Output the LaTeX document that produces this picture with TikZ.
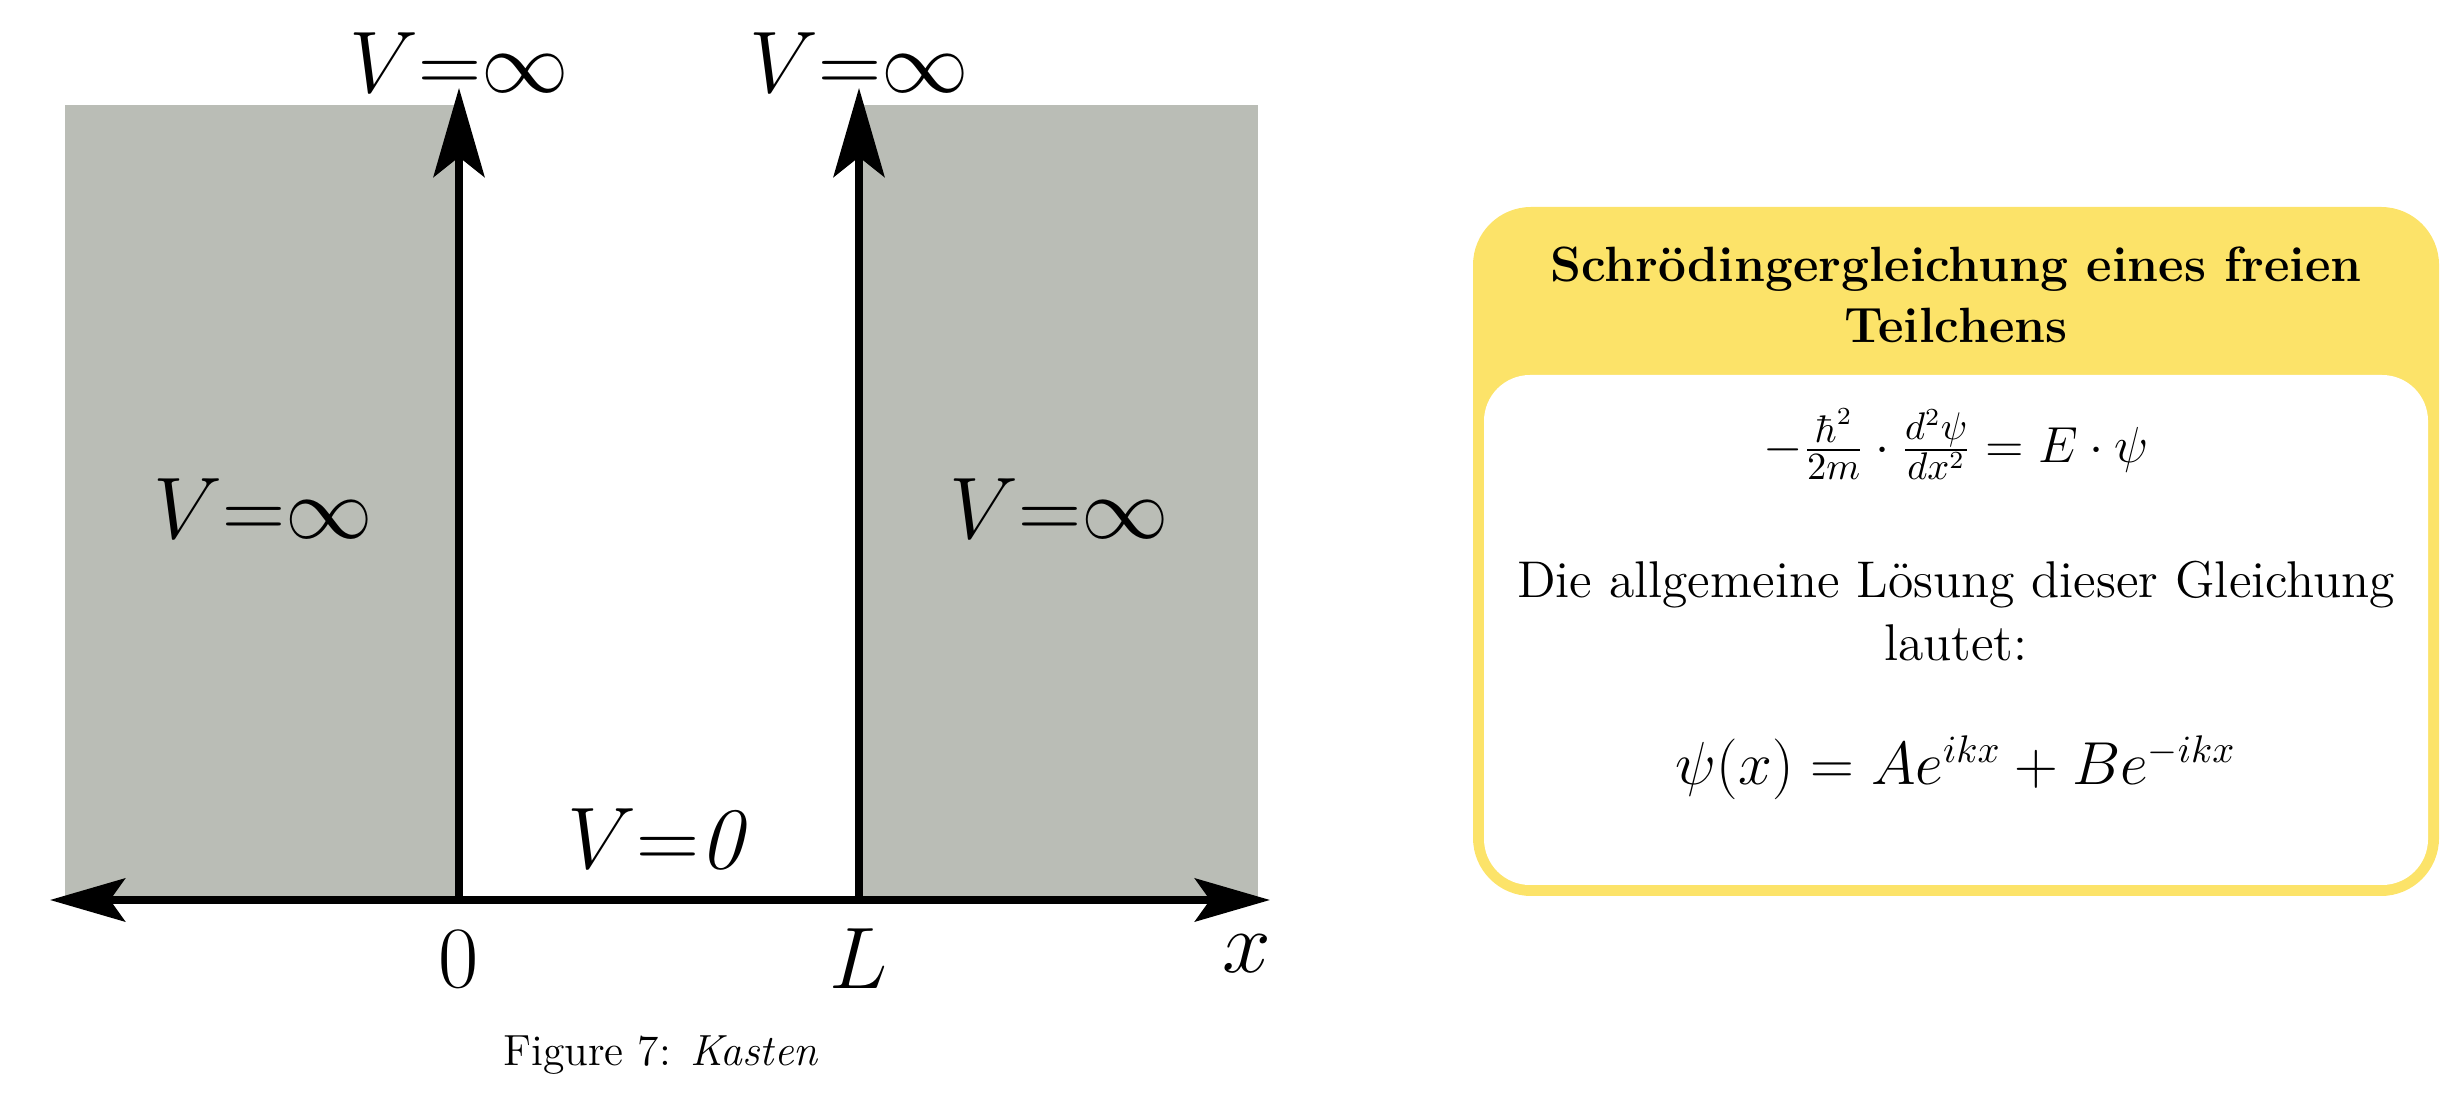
\documentclass[tikz,border=0pt]{standalone}
\usepackage{amsmath}
\usetikzlibrary{arrows.meta}
\definecolor{wand}{RGB}{186,189,182}
\definecolor{kastengelb}{RGB}{252,227,105}

\begin{document}
\begin{tikzpicture}[line width=2.2pt,
	hoch/.style={-{Stealth[length=8.9mm,width=5.1mm,inset=2mm]}},
	achse/.style={{Stealth[length=7.5mm,width=4.3mm,inset=1.5mm]}-{Stealth[length=7.5mm,width=4.3mm,inset=1.5mm]}},
	gross/.style={font=\fontsize{23}{28}\selectfont},
	boxtext/.style={font=\fontsize{14.7}{17.8}\selectfont, align=center},
	formel/.style={font=\fontsize{15}{18}\selectfont}]
	\useasboundingbox (0,0) rectangle (24.57,10.97);

	% Kasten
	\fill[wand] (0.65,1.97) rectangle (4.59,9.92);
	\fill[wand] (8.59,1.97) rectangle (12.58,9.92);

	\coordinate (links) at (0.50,1.97);
	\coordinate (rechts) at (12.70,1.97);
	\coordinate (null) at (4.59,1.97);
	\coordinate (ende) at (8.59,1.97);
	\coordinate (obenN) at (4.59,10.09);
	\coordinate (obenE) at (8.59,10.09);

	\draw[achse] (links) -- (rechts);
	\draw[hoch] (null) -- (obenN);
	\draw[hoch] (ende) -- (obenE);

	\node[gross] (vobenN) at (4.59,10.34) {$V{=}\infty$};
	\node[gross] (vobenE) at (8.59,10.34) {$V{=}\infty$};
	\node[gross] (vlinks) at (2.63,5.88) {$V{=}\infty$};
	\node[gross] (vrechts) at (10.59,5.88) {$V{=}\infty$};
	\node[gross] (vnull) at (6.61,2.58) {$V{=}\mathit{0}$};
	\node[gross] (lnull) at (4.59,1.38) {$0$};
	\node[gross] (lende) at (8.59,1.38) {$L$};
	\node[gross] (lx) at (12.47,1.43) {$x$};

	\node[font=\fontsize{12.4}{14}\selectfont] (caption) at (6.61,0.42) {Figure 7: \textit{Kasten}};

	% Box
	\fill[kastengelb, rounded corners=5.8mm] (14.73,2.01) rectangle (24.39,8.90);
	\fill[white, rounded corners=4.6mm] (14.84,2.12) rectangle (24.28,7.22);

	\node[boxtext, font=\fontsize{14.1}{17.2}\selectfont\bfseries] (titel) at (19.56,8.02)
		{Schrödingergleichung eines freien\\Teilchens};
	\node[formel] (gl1) at (19.56,6.53)
		{$-\frac{\hbar^2}{2m}\cdot\frac{d^2\psi}{dx^2} = E\cdot\psi$};
	\node[boxtext] (satz) at (19.56,4.86)
		{Die allgemeine Lösung dieser Gleichung\\lautet:};
	\node[formel, font=\fontsize{16.2}{19}\selectfont] (gl2) at (19.56,3.29)
		{$\psi(x) = Ae^{ikx} + Be^{-ikx}$};
\end{tikzpicture}
\end{document}
